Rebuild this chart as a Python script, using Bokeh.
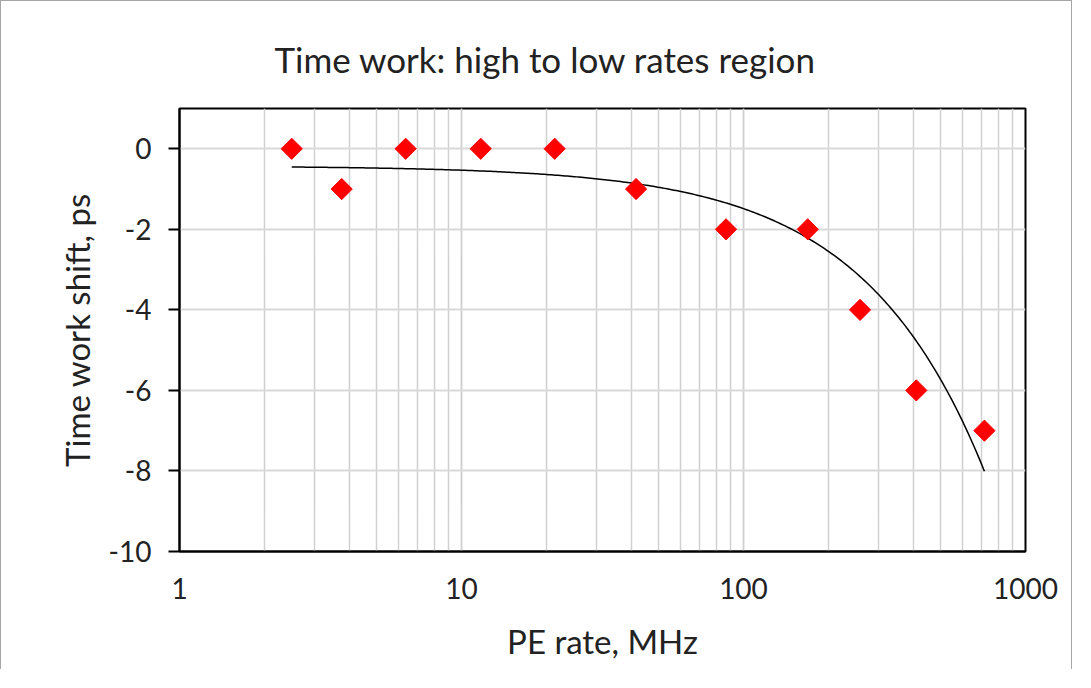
import numpy as np
from bokeh.plotting import figure
from bokeh.models import Range1d, FixedTicker, Title, LogTicker, PrintfTickFormatter
from bokeh.embed import file_html
from bokeh.resources import INLINE

# data
pe_rate_mhz = [2.5, 3.76, 6.34, 11.7, 21.4, 41.6, 86.7, 169, 259, 410, 715]
time_shift_ps = [0, -1, 0, 0, 0, -1, -2, -2, -4, -6, -7]
y_ticks = [-10, -8, -6, -4, -2, 0]
x_ticks = [1, 10, 100, 1000]

FONT = "Lato"

p = figure(width=1072, height=669, x_axis_type="log",
           x_range=Range1d(1, 1000), y_range=Range1d(-10, 1),
           output_backend="svg", toolbar_location=None,
           min_border_left=178, min_border_right=48,
           min_border_top=107, min_border_bottom=119)
p.styles = {"border-left": "1.5px solid #a6a6a6",
            "border-top": "1.5px solid #a6a6a6",
            "border-right": "1.5px solid #a6a6a6"}
p.background_fill_color = "white"
p.border_fill_color = "white"
p.outline_line_color = "black"
p.outline_line_width = 2

t = Title(text="Time work: high to low rates region", align="left", offset=95,
          standoff=58, text_font=FONT, text_font_size="35px",
          text_font_style="normal", text_color="#222222")
p.add_layout(t, "above")

# grid
p.xgrid.ticker = LogTicker(num_minor_ticks=10)
p.xgrid.grid_line_color = "#d0d0d0"
p.xgrid.grid_line_width = 1.5
p.xgrid.minor_grid_line_color = "#d0d0d0"
p.xgrid.minor_grid_line_width = 1.5
p.ygrid.ticker = FixedTicker(ticks=y_ticks)
p.ygrid.grid_line_color = "#d9d9d9"
p.ygrid.grid_line_width = 2

# axes
p.xaxis.ticker = FixedTicker(ticks=x_ticks)
p.yaxis.ticker = FixedTicker(ticks=y_ticks)
p.xaxis.formatter = PrintfTickFormatter(format="%d")
p.yaxis.formatter = PrintfTickFormatter(format="%d")
for ax in (p.xaxis[0], p.yaxis[0]):
    ax.axis_line_color = "black"
    ax.axis_line_width = 2
    ax.minor_tick_line_color = None
    ax.major_label_text_font = FONT
    ax.major_label_text_font_size = "28px"
    ax.major_label_text_color = "#222222"
    ax.axis_label_text_font = FONT
    ax.axis_label_text_font_size = "33px"
    ax.axis_label_text_font_style = "normal"
    ax.axis_label_text_color = "#222222"
p.xaxis.major_tick_line_color = None
p.xaxis.major_label_standoff = 20
p.xaxis.axis_label = "PE rate, MHz"
p.xaxis.axis_label_standoff = 19
p.yaxis.major_tick_line_color = "black"
p.yaxis.major_tick_line_width = 2
p.yaxis.major_tick_out = 11
p.yaxis.major_tick_in = 0
p.yaxis.major_label_standoff = 17
p.yaxis.axis_label = "Time work shift, ps"
p.yaxis.axis_label_standoff = 9

# linear least-squares trendline (as in the original chart)
xa = np.array(pe_rate_mhz, dtype=float)
ya = np.array(time_shift_ps, dtype=float)
slope, intercept = np.polyfit(xa, ya, 1)
xs = np.geomspace(xa.min(), xa.max(), 300)
p.line(xs, intercept + slope * xs, line_color="black", line_width=1.5)

p.scatter(pe_rate_mhz, time_shift_ps, marker="square", angle=np.pi / 4,
          size=15, fill_color="#ff0000", line_color="#ff0000")

open("out.html", "w").write(file_html(p, INLINE))
